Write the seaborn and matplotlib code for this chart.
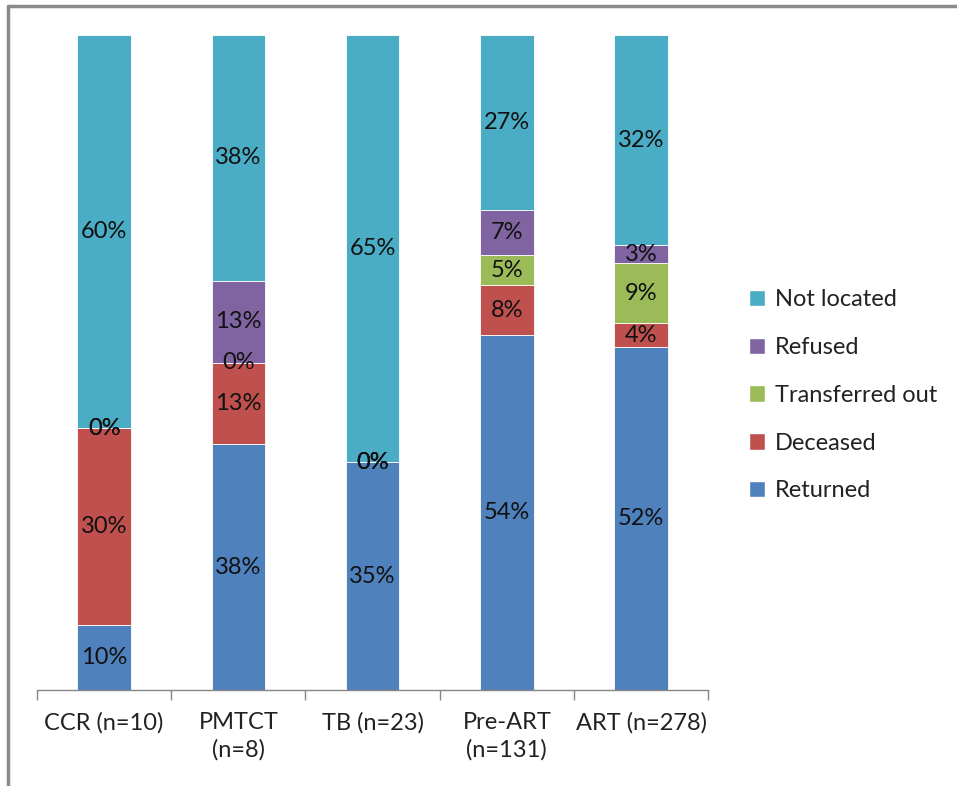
import math
import numpy as np
import pandas as pd
import matplotlib
matplotlib.use("Agg")
import matplotlib.pyplot as plt
from matplotlib.lines import Line2D
from matplotlib.patches import Patch
import seaborn as sns

# Outcome shares (%) for each patient group
groups = ["CCR (n=10)", "PMTCT\n(n=8)", "TB (n=23)", "Pre-ART\n(n=131)", "ART (n=278)"]
returned = [10.0, 37.5, 34.8, 54.2, 52.4]
deceased = [30.0, 12.5, 0.0, 7.6, 3.6]
transferred_out = [0.0, 0.0, 0.0, 4.6, 9.2]
refused = [0.0, 12.5, 0.0, 6.9, 2.7]
not_located = [60.0, 37.5, 65.2, 26.7, 32.1]

series_names = ["Returned", "Deceased", "Transferred out", "Refused", "Not located"]
series_values = [returned, deceased, transferred_out, refused, not_located]
series_colors = ["#4F81BD", "#C0504D", "#9BBB59", "#8064A2", "#4BACC6"]

sns.set_theme(style="white")
plt.rcParams["font.family"] = ["Lato", "DejaVu Sans"]

FS = 17

fig = plt.figure(figsize=(9.57, 7.86), dpi=100)
ax = fig.add_axes([0.0387, 0.122, 0.7013, 0.8335])

positions = np.arange(len(groups))
bottom = np.zeros(len(groups))


def pct_label(v):
    return f"{int(math.floor(v + 0.5))}%"


for name, vals, color in zip(series_names, series_values, series_colors):
    vals = np.asarray(vals, dtype=float)
    df = pd.DataFrame({"group": groups, "value": vals})
    sns.barplot(data=df, x="group", y="value", order=groups, color=color,
                bottom=bottom, width=0.4, ax=ax, edgecolor="white",
                linewidth=0.6, saturation=1)
    for x, b, v in zip(positions, bottom, vals):
        ax.text(x, b + v / 2, pct_label(v), ha="center", va="center",
                fontsize=FS, color="#111111")
    bottom = bottom + vals

ax.set_ylim(0, 100)
ax.set_xlim(-0.5, len(groups) - 0.5)
ax.set_xlabel("")
ax.set_ylabel("")
ax.set_yticks([])
ax.tick_params(axis="x", which="major", length=0, labelsize=FS,
               labelcolor="#222222", pad=16)
for lbl in ax.get_xticklabels():
    lbl.set_linespacing(1.35)
ax.set_xticks(np.arange(-0.5, len(groups)), minor=True)
ax.tick_params(axis="x", which="minor", bottom=True, length=7, width=1,
               color="#868686", direction="out")
for side in ["top", "right", "left"]:
    ax.spines[side].set_visible(False)
ax.spines["bottom"].set_color("#868686")
ax.spines["bottom"].set_linewidth(1)

handles = [Patch(facecolor=c, edgecolor="white", label=n)
           for n, c in zip(series_names, series_colors)][::-1]
fig.legend(handles=handles, loc="center left", bbox_to_anchor=(0.760, 0.497),
           frameon=False, fontsize=FS, handlelength=0.7, handleheight=0.7,
           handletextpad=0.4, labelspacing=1.13, labelcolor="#222222")

# Outer chart border (top and left edges)
gray = "#8A8A8A"
fig.add_artist(Line2D([8 / 957, 1.0], [1 - 6 / 786, 1 - 6 / 786],
                      transform=fig.transFigure, color=gray, linewidth=2.5))
fig.add_artist(Line2D([8 / 957, 8 / 957], [0.0, 1 - 6 / 786],
                      transform=fig.transFigure, color=gray, linewidth=2.5))

fig.savefig("out.png", dpi=100, facecolor="white")
